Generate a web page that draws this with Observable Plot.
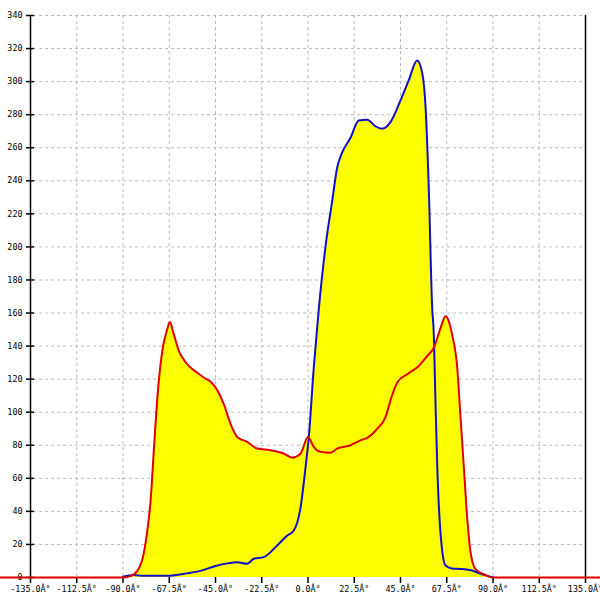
<!DOCTYPE html>
<html>
<head>
<meta charset="utf-8">
<script src="https://cdn.jsdelivr.net/npm/d3@7"></script>
<script src="https://cdn.jsdelivr.net/npm/@observablehq/plot@0.6"></script>
<style>
  body { margin: 0; background: #fff; }
</style>
</head>
<body>
<div id="chart"></div>
<script>
// angles (deg) and counts
const redX = [-150, -90, -86, -83, -80, -78, -76.6, -75, -73.4, -70.9, -68.5, -67.2, -65.5, -62.8, -60, -58, -54, -50.7, -47, -45, -41, -37.7, -34.4, -29.6, -24.7, -18.2, -11.8, -7.7, -3.6, 0, 2.8, 6.1, 10.9, 14.2, 20.7, 25.5, 28.8, 33.7, 37.7, 40.1, 43.4, 48.3, 53.9, 58, 61.2, 64.5, 66.9, 68.5, 70.1, 72.6, 74.2, 75.8, 77.4, 79, 81.5, 85.5, 90, 150];
const redY = [0, 0, 1, 4, 14, 30, 46, 77, 107, 137, 150, 154.5, 148, 137, 131, 128, 124, 121, 118, 115, 105, 93, 85, 82, 78, 77, 75, 72.5, 75, 85, 79, 76, 75.5, 78, 80, 83, 84.5, 90, 97, 107, 118, 123, 128, 134, 139, 151, 158, 155, 147, 127, 97, 67, 37, 16, 5, 2, 0, 0];

const blueX = [-90, -85, -80, -68.5, -58.8, -52.3, -45, -40, -34.4, -29.6, -26.4, -21.5, -15, -10.1, -6.9, -3.6, -1.2, 0.4, 2.8, 5.3, 8.5, 11.8, 14.2, 16.6, 20.7, 24.7, 28.8, 32.8, 36.1, 40.1, 45, 49, 53.1, 55.6, 57.2, 58.8, 60.4, 61.2, 62, 62.9, 64.5, 66.9, 70, 74.2, 79.9, 83.9, 90];
const blueY = [0.5, 1.5, 1, 1, 2.5, 4, 7, 8.4, 9.3, 8.3, 11.3, 12.3, 19.4, 25.4, 28.4, 42.5, 66.7, 85, 127, 163, 200, 228, 248, 257, 266, 276.5, 277, 273, 271.5, 275.5, 288.6, 300.7, 312.8, 305, 284.5, 234, 163.5, 147.4, 107, 66.7, 26.4, 7.3, 5.5, 5.2, 4.2, 2.2, 0.2];

const xTicks = [-135, -112.5, -90, -67.5, -45, -22.5, 0, 22.5, 45, 67.5, 90, 112.5, 135];
const yTicks = [0, 20, 40, 60, 80, 100, 120, 140, 160, 180, 200, 220, 240, 260, 280, 300, 320, 340];

const red = redX.map((x, i) => ({x, y: redY[i]}));
const blue = blueX.map((x, i) => ({x, y: blueY[i]}));

const fmt = d => d.toFixed(1) + "Â°";

const chart = Plot.plot({
  width: 600,
  height: 600,
  marginLeft: 30,
  marginRight: 15,
  marginTop: 15,
  marginBottom: 23,
  style: {fontFamily: "DejaVu Sans Mono, monospace", fontSize: "8.4px", color: "#000", background: "#fff", overflow: "visible"},
  x: {domain: [-135, 135], axis: null},
  y: {domain: [0, 340], axis: null},
  marks: [
    Plot.gridX(xTicks, {stroke: "#bbb", strokeOpacity: 1, strokeDasharray: "3,3"}),
    Plot.gridY(yTicks.filter(d => d > 0), {stroke: "#bbb", strokeOpacity: 1, strokeDasharray: "3,3", x1: -133.5, x2: 135}),
    Plot.areaY(red, {x: "x", y: "y", fill: "#ffff00", curve: "monotone-x"}),
    Plot.areaY(blue, {x: "x", y: "y", fill: "#ffff00", curve: "monotone-x"}),
    Plot.ruleX([-135, 135], {stroke: "#000", strokeWidth: 1.5}),
    // ticks crossing the left axis, then the labels
    Plot.axisY({ticks: yTicks, tickSize: 8, dx: 4, tickFormat: () => "", label: null, stroke: "#000", strokeWidth: 1.5, strokeOpacity: 1}),
    Plot.axisY({ticks: yTicks, tickSize: 0, tickPadding: 8, label: null, fill: "#000"}),
    Plot.axisX({ticks: xTicks, tickSize: 6, tickPadding: 3, tickFormat: fmt, label: null, stroke: "#000", strokeWidth: 1.5, strokeOpacity: 1, fill: "#000"}),
    Plot.line(blue, {x: "x", y: "y", stroke: "#1010cc", strokeWidth: 2, curve: "monotone-x"}),
    Plot.line(red, {x: "x", y: "y", stroke: "#e00000", strokeWidth: 2, curve: "monotone-x"})
  ]
});

document.getElementById("chart").append(chart);
</script>
</body>
</html>
